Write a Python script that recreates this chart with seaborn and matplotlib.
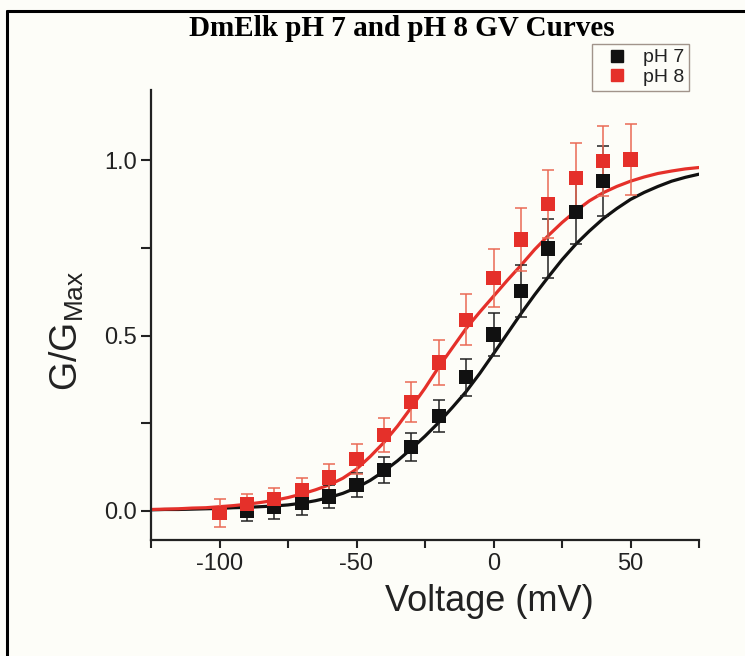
import numpy as np
import pandas as pd
import matplotlib
matplotlib.use("Agg")
import matplotlib.pyplot as plt
from matplotlib.lines import Line2D
import seaborn as sns

# ---------------- data ----------------
v_ph8 = [-100, -90, -80, -70, -60, -50, -40, -30, -20, -10, 0, 10, 20, 30, 40, 50]
g_ph8 = [-0.005, 0.019, 0.034, 0.059, 0.095, 0.148, 0.217, 0.31, 0.423, 0.545,
         0.665, 0.774, 0.874, 0.95, 0.998, 1.002]
e_ph8 = [0.04, 0.03, 0.032, 0.035, 0.038, 0.043, 0.048, 0.057, 0.063, 0.072,
         0.083, 0.09, 0.097, 0.1, 0.1, 0.1]

v_ph7 = [-90, -80, -70, -60, -50, -40, -30, -20, -10, 0, 10, 20, 30, 40]
g_ph7 = [0.0, 0.01, 0.024, 0.041, 0.074, 0.117, 0.183, 0.271, 0.381, 0.503,
         0.627, 0.748, 0.852, 0.941]
e_ph7 = [0.03, 0.033, 0.035, 0.032, 0.035, 0.037, 0.04, 0.046, 0.053, 0.062,
         0.075, 0.083, 0.09, 0.1]

# fitted curves, every 5 mV
v_fit = [-125, -120, -115, -110, -105, -100, -95, -90, -85, -80, -75, -70, -65,
         -60, -55, -50, -45, -40, -35, -30, -25, -20, -15, -10, -5, 0, 5, 10,
         15, 20, 25, 30, 35, 40, 45, 50, 55, 60, 65, 70, 75]
fit_ph7 = [0.003, 0.004, 0.004, 0.005, 0.006, 0.007, 0.009, 0.010, 0.012, 0.014,
           0.017, 0.022, 0.029, 0.038, 0.050, 0.066, 0.087, 0.113, 0.143, 0.177,
           0.213, 0.252, 0.295, 0.340, 0.392, 0.448, 0.505, 0.562, 0.616, 0.667,
           0.716, 0.760, 0.798, 0.833, 0.862, 0.888, 0.908, 0.925, 0.940, 0.951,
           0.960]
fit_ph8 = [0.004, 0.005, 0.006, 0.008, 0.009, 0.012, 0.015, 0.019, 0.024, 0.030,
           0.038, 0.048, 0.060, 0.074, 0.093, 0.119, 0.155, 0.195, 0.242, 0.295,
           0.350, 0.410, 0.465, 0.520, 0.567, 0.612, 0.657, 0.700, 0.745, 0.785,
           0.822, 0.855, 0.884, 0.907, 0.925, 0.940, 0.952, 0.962, 0.969, 0.975,
           0.979]

labels = ["pH 7", "pH 8"]
title = "DmElk pH 7 and pH 8 GV Curves"
x_ticks = [-100, -50, 0, 50]
y_ticks = [0.0, 0.5, 1.0]

# ---------------- style ----------------
sns.set_style("ticks")
plt.rcParams["font.family"] = ["Liberation Sans", "DejaVu Sans"]
plt.rcParams["mathtext.fontset"] = "custom"
plt.rcParams["mathtext.rm"] = "Liberation Sans"

BG = "#fdfdf8"
RED = "#e5302a"
RED_E = "#ea6a55"
BLACK = "#111111"

fig = plt.figure(figsize=(7.45, 6.56), dpi=100, facecolor=BG)
ax = fig.add_axes([151 / 745, 1 - 540 / 656, 548 / 745, 450 / 656])
ax.set_facecolor(BG)

fit_df = pd.DataFrame({"V": v_fit * 2, "G": fit_ph7 + fit_ph8,
                       "pH": ["pH 7"] * len(v_fit) + ["pH 8"] * len(v_fit)})
sns.lineplot(data=fit_df, x="V", y="G", hue="pH", palette=[BLACK, RED],
             linewidth=2.3, legend=False, ax=ax, zorder=2)

ax.errorbar(v_ph7, g_ph7, yerr=e_ph7, fmt="none", ecolor="#222222",
            elinewidth=1.1, capsize=4.5, capthick=1.1, zorder=3)
ax.errorbar(v_ph8, g_ph8, yerr=e_ph8, fmt="none", ecolor=RED_E,
            elinewidth=1.1, capsize=4.5, capthick=1.1, zorder=3)

pts = pd.DataFrame({"V": v_ph7 + v_ph8, "G": g_ph7 + g_ph8,
                    "pH": ["pH 7"] * len(v_ph7) + ["pH 8"] * len(v_ph8)})
sns.scatterplot(data=pts, x="V", y="G", hue="pH", palette=[BLACK, RED],
                marker="s", s=105, linewidth=0, ax=ax, zorder=4, legend=False)

ax.set_xlim(-125, 75)
ax.set_ylim(-0.083, 1.2)
ax.set_xticks(x_ticks)
ax.set_xticks([-125, -75, -25, 25, 75], minor=True)
ax.set_yticks(y_ticks)
ax.set_yticks([0.25, 0.75], minor=True)
ax.set_xticklabels([str(t) for t in x_ticks])
ax.set_yticklabels([f"{t:.1f}" for t in y_ticks])
ax.tick_params(axis="both", which="both", direction="out", length=6,
               width=1.5, color="#222222", labelsize=17, pad=3,
               labelcolor="#222222")
ax.tick_params(axis="y", which="both", length=7)

sns.despine(ax=ax)
for s in ["left", "bottom"]:
    ax.spines[s].set_linewidth(1.6)
    ax.spines[s].set_color("#222222")

ax.set_xlabel("Voltage (mV)", fontsize=26, color="#222222")
ax.set_ylabel(r"G/G$_{\mathregular{Max}}$", fontsize=27, color="#222222")
ax.xaxis.set_label_coords(0.617, -0.098)
ax.xaxis.label.set_va("top")
ax.yaxis.set_label_coords(-0.118, 0.465)

handles = [Line2D([], [], marker="s", linestyle="none", color=BLACK, markersize=8),
           Line2D([], [], marker="s", linestyle="none", color=RED, markersize=8)]
leg = fig.legend(handles, labels, loc="upper right",
                 bbox_to_anchor=(689 / 745, 1 - 44 / 656), frameon=True,
                 fancybox=False, fontsize=14, handlelength=2.0,
                 handletextpad=0.35, borderpad=0.25, labelspacing=0.1,
                 borderaxespad=0)
leg.get_frame().set_edgecolor("#8a7a70")
leg.get_frame().set_linewidth(1.0)
leg.get_frame().set_facecolor(BG)
for t in leg.get_texts():
    t.set_color("#222222")

fig.text(402 / 745, 1 - 28 / 656, title, ha="center", va="center",
         fontsize=21, fontweight="bold", family=["Liberation Serif", "DejaVu Serif"],
         color="black")

# outer frame (left and top edges)
fig.add_artist(Line2D([7 / 745, 7 / 745], [0, 1 - 11 / 656], transform=fig.transFigure,
                      color="black", linewidth=2.2))
fig.add_artist(Line2D([7 / 745, 1.0], [1 - 11 / 656, 1 - 11 / 656],
                      transform=fig.transFigure, color="black", linewidth=2.2))

fig.savefig("out.png", dpi=100, facecolor=BG)
